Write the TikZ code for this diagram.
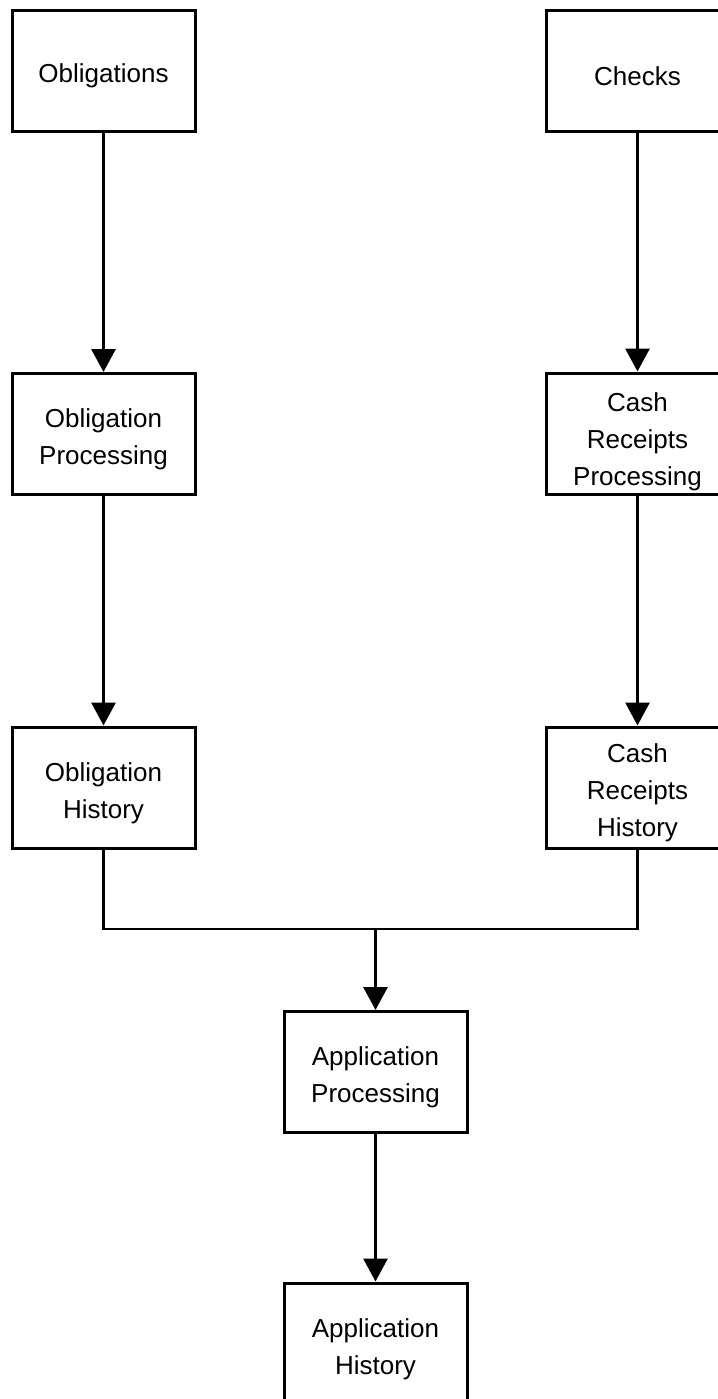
\documentclass[tikz,border=0pt]{standalone}
\usepackage{fontspec}
\setmainfont{Liberation Sans}
\usepackage{tikz}
\usetikzlibrary{arrows.meta}
\usetikzlibrary{positioning}

% Abstand ueber der ersten Zeile
\newcommand{\oben}{\rule{0pt}{15pt}}

\tikzset{
    kasten/.style={draw, line width=1.5pt, minimum width=91.5pt, minimum height=60.5pt,
        inner sep=0pt, align=center, font=\fontsize{13}{18.5}\selectfont},
    pfeil/.style={line width=1.5pt, -{Triangle[length=11.5pt,width=12pt]}},
    linie/.style={line width=1.2pt}
}

\begin{document}
\begin{tikzpicture}[x=0.5pt,y=-0.5pt]
            \useasboundingbox (0,0) rectangle (718,1399);
            % Kaesten zeichnen
            \node[kasten] (obl) at (103.5,70.5) {\oben Obligations};
            \node[kasten] (chk) at (637.5,70.5) {\oben Checks};
            \node[kasten] (oproc) at (103.5,434) {\oben Obligation\\Processing};
            \node[kasten] (cproc) at (637.5,433.5) {\rule{0pt}{17.5pt}Cash\\Receipts\\Processing};
            \node[kasten] (ohist) at (103.5,787.5) {\oben Obligation\\History};
            \node[kasten] (chist) at (637.5,787.5) {\oben Cash\\Receipts\\History};
            \node[kasten] (aproc) at (375.5,1072) {\oben Application\\Processing};
            \node[kasten] (ahist) at (375.5,1343.5) {\oben Application\\History};

            %Pfeile einzeichnen:
            \draw[pfeil] (obl) -- (oproc);
            \draw[pfeil] (oproc) -- (ohist);
            \draw[pfeil] (chk) -- (cproc);
            \draw[pfeil] (cproc) -- (chist);

            \coordinate (join) at (375.5,929);
            \draw[linie] (ohist.south) |- (join) -| (chist.south);
            \draw[pfeil] (join) -- (aproc);
            \draw[pfeil] (aproc) -- (ahist);

        \end{tikzpicture}
\end{document}
